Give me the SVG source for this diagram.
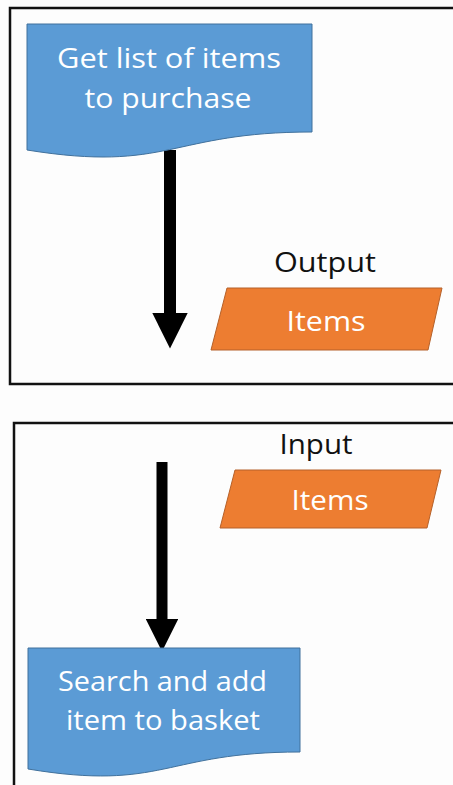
<svg xmlns="http://www.w3.org/2000/svg" width="453" height="785" viewBox="0 0 453 785">
  <style>
    .frame { fill: none; stroke: #111; stroke-width: 2.5; }
    .doc { fill: #5B9BD5; stroke: #41719C; stroke-width: 1; }
    .data { fill: #ED7D31; stroke: #B5612A; stroke-width: 1; }
    .wt { fill: #FFFFFF; font-family: "Open Sans", "Liberation Sans", sans-serif; font-size: 28px; text-anchor: middle; }
    .bt { fill: #111111; font-family: "Open Sans", "Liberation Sans", sans-serif; font-size: 28px; text-anchor: middle; }
    .conn { stroke: #000; fill: none; marker-end: url(#head); }
  </style>
  <defs>
    <marker id="head" viewBox="0 0 10 10" markerWidth="3" markerHeight="2.95" refX="0" refY="5" orient="auto">
      <path d="M0,0 L10,5 L0,10 Z" fill="#000"/>
    </marker>
  </defs>
  <rect x="0" y="0" width="453" height="785" fill="#FDFDFD"/>
  <path class="frame" d="M455,8 H10 V384 H455"/>
  <path class="frame" d="M455,423 H14 V787"/>

  <g id="connectors">
    <line class="conn" x1="170" y1="150" x2="170" y2="313" stroke-width="12"/>
    <line class="conn" x1="162" y1="462" x2="162" y2="619" stroke-width="11"/>
  </g>

  <g id="node-get-list">
    <path class="doc" d="M27,24 H312 V132 C169.5,132 169.5,173 27,150 Z"/>
    <text class="wt" x="169" y="68" textLength="224" lengthAdjust="spacingAndGlyphs">Get list of items</text>
    <text class="wt" x="168" y="108" textLength="167" lengthAdjust="spacingAndGlyphs">to purchase</text>
  </g>

  <g id="node-output">
    <text class="bt" x="325" y="272" textLength="102" lengthAdjust="spacingAndGlyphs">Output</text>
    <path class="data" d="M227,288 H442 L428,350 H211 Z"/>
    <text class="wt" x="326" y="331" textLength="79" lengthAdjust="spacingAndGlyphs">Items</text>
  </g>

  <g id="node-input">
    <text class="bt" x="316" y="454" textLength="73" lengthAdjust="spacingAndGlyphs">Input</text>
    <path class="data" d="M235,470 H441 L427,528 H220 Z"/>
    <text class="wt" x="330" y="510" textLength="77" lengthAdjust="spacingAndGlyphs">Items</text>
  </g>

  <g id="node-search">
    <path class="doc" d="M28,648 H300 V752 C164,752 164,791.6 28,769 Z"/>
    <text class="wt" x="162.5" y="691" textLength="209" lengthAdjust="spacingAndGlyphs">Search and add</text>
    <text class="wt" x="163" y="730" textLength="194" lengthAdjust="spacingAndGlyphs">item to basket</text>
  </g>
</svg>
